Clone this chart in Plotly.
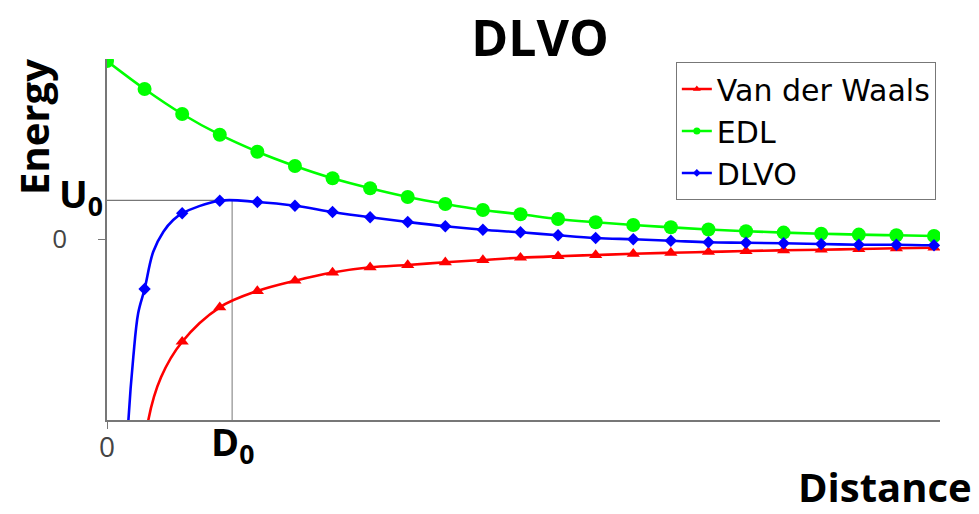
import plotly.graph_objects as go

# ---- data ----
x_marks = list(range(23))

vdw_x_tail = [1.0, 1.1, 1.44]
vdw_y_tail = [-22.0, -18.1, -13.8]
vdw_y = [None, None, -10.27, -6.83, -5.2, -4.17, -3.35, -2.83, -2.6, -2.33, -2.1,
         -1.87, -1.72, -1.6, -1.48, -1.38, -1.29, -1.2, -1.13, -1.07, -1.0, -0.93, -0.87]

edl_y = [17.8, 15.0, 12.5, 10.43, 8.73, 7.3, 6.07, 5.07, 4.2, 3.5, 2.9, 2.47, 2.0,
         1.67, 1.4, 1.17, 0.95, 0.78, 0.64, 0.53, 0.44, 0.37, 0.3]

dlvo_x_tail = [0.5, 0.57, 0.7, 0.83]
dlvo_y_tail = [-24.0, -18.1, -11.8, -7.4]
dlvo_x_mid = [1.23, 1.5, 1.76]
dlvo_y_mid = [-1.27, 0.73, 1.9]
dlvo_y = [None, -5.0, 2.57, 3.83, 3.7, 3.33, 2.7, 2.17, 1.7, 1.27, 0.93, 0.67, 0.37,
          0.1, -0.03, -0.17, -0.33, -0.37, -0.43, -0.5, -0.57, -0.57, -0.63]

D0 = 3.33
U0 = 3.87

series_names = ["Van der Waals", "EDL", "DLVO"]
colors = ["#ff0000", "#00ff00", "#0000ff"]
symbols = ["triangle-up", "circle", "diamond"]
mark_sizes = [11.5, 14, 9.5]
legend_sizes = [7, 7, 6]

X_RANGE = [0, 22.16]
Y_RANGE = [-18.1, 18.0]


def merged(tail_x, tail_y, mid_x, mid_y, ys):
    pts = []
    for a, b in zip(tail_x, tail_y):
        pts.append((a, b, 0))
    for a, b in zip(x_marks, ys):
        if b is not None:
            pts.append((a, b, 1))
    for a, b in zip(mid_x, mid_y):
        pts.append((a, b, 0))
    pts.sort(key=lambda p: p[0])
    return [p[0] for p in pts], [p[1] for p in pts], [p[2] for p in pts]


series = [
    merged(vdw_x_tail, vdw_y_tail, [], [], vdw_y),
    merged([], [], [], [], edl_y),
    merged(dlvo_x_tail, dlvo_y_tail, dlvo_x_mid, dlvo_y_mid, dlvo_y),
]

fig = go.Figure()

for (xs, ys, flags), col, sym, ms in zip(series, colors, symbols, mark_sizes):
    fig.add_trace(go.Scatter(
        x=xs, y=ys, mode="lines+markers", showlegend=False, hoverinfo="skip",
        line=dict(color=col, width=2.6, shape="spline"),
        marker=dict(color=col, symbol=sym, size=[ms if f else 0 for f in flags],
                    opacity=1, line=dict(width=0)),
    ))

# legend entries
for name, col, sym, ls in zip(series_names, colors, symbols, legend_sizes):
    fig.add_trace(go.Scatter(
        x=[None], y=[None], mode="lines+markers", name=name,
        line=dict(color=col, width=2.5),
        marker=dict(color=col, symbol=sym, size=ls, opacity=1, line=dict(width=0)),
    ))

# reference lines at the DLVO maximum
fig.add_shape(type="line", xref="x", yref="y", x0=X_RANGE[0], x1=D0, y0=U0, y1=U0,
              line=dict(color="#777777", width=1.2), layer="below")
fig.add_shape(type="line", xref="x", yref="y", x0=D0, x1=D0, y0=Y_RANGE[0], y1=U0,
              line=dict(color="#aaaaaa", width=1.6), layer="below")

bold = "Open Sans"

fig.add_annotation(text="<b>Energy</b>", textangle=-90, xref="paper", yref="paper",
                   x=-0.0876, y=0.812, xanchor="center", yanchor="middle", showarrow=False,
                   font=dict(family=bold, size=40, color="#000000"))
fig.add_annotation(text="<b>Distance</b>", xref="paper", yref="paper",
                   x=0.934, y=-0.183, xanchor="center", yanchor="middle", showarrow=False,
                   font=dict(family=bold, size=40, color="#000000"))
fig.add_annotation(text="<b>U<sub>0</sub></b>", xref="paper", yref="y",
                   x=-0.002, y=U0, xanchor="right", yanchor="middle", yshift=5,
                   showarrow=False, font=dict(family=bold, size=38, color="#000000"))
fig.add_annotation(text="<b>D<sub>0</sub></b>", xref="x", yref="paper",
                   x=D0, y=-0.066, xanchor="center", yanchor="middle", showarrow=False,
                   font=dict(family=bold, size=38, color="#000000"))

fig.update_layout(
    width=971, height=506,
    margin=dict(l=99, r=39, t=51, b=94),
    paper_bgcolor="white", plot_bgcolor="white",
    font=dict(family="Open Sans", color="#000000"),
    title=dict(text="<b>DLVO</b>", x=0.548, xanchor="center", y=0.9407, yanchor="middle",
               xref="container", yref="container",
               font=dict(family=bold, size=50, color="#000000")),
    legend=dict(x=0.995, y=0.992, xanchor="right", yanchor="top",
                bgcolor="white", bordercolor="#777777", borderwidth=1,
                font=dict(family="DejaVu Sans", size=30, color="#000000"),
                traceorder="normal"),
    xaxis=dict(range=X_RANGE, showgrid=False, zeroline=False, showline=True,
               linecolor="#777777", linewidth=1.5, ticks="outside", ticklen=7,
               tickcolor="#777777", tickvals=[0], ticktext=["0"],
               tickfont=dict(size=28, color="#444444"), ticklabelstandoff=-5),
    yaxis=dict(range=Y_RANGE, showgrid=False, zeroline=False, showline=True,
               linecolor="#777777", linewidth=1.5, ticks="outside", ticklen=7,
               tickcolor="#777777", tickvals=[0], ticktext=["0"],
               tickfont=dict(size=26, color="#444444"), ticklabelstandoff=26),
)

fig.write_html("out.html")
